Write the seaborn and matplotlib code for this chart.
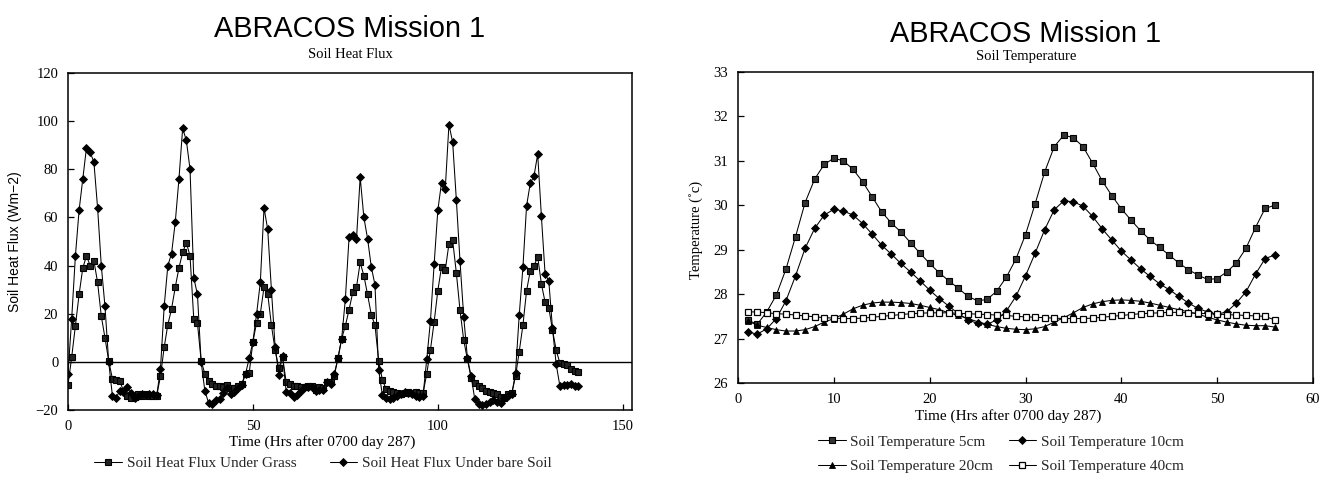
import matplotlib
matplotlib.use("Agg")
import matplotlib.pyplot as plt
import seaborn as sns
import pandas as pd

# ---------------- data: soil heat flux (left) ----------------
flux_hours = list(range(0, 139))
flux_grass = [
    -9.5, 2, 15, 28, 39, 44, 40, 42, 33, 19, 10, 0.5, -7,
    -7.5, -8, -12, -14, -15, -14.5, -13.5, -14, -13.5, -14, -14, -14,
    -6, 6, 15.5, 22, 31, 39, 45.5, 49.5, 44, 18, 16, 0.5, -5, -8,
    -9, -10, -10, -10.5, -9.5, -11, -11, -10, -9, -5,
    -4.6, 8.4, 16.3, 20, 31, 28.3, 15.2, 4.9, -2.6, 2.2,
    -8.5, -9.2, -9.9, -10.1, -10.5, -10.3, -9.9, -10.1, -11.6, -10.5, -11, -8.2, -8.5, -5.8,
    1.5, 9.7, 15, 21.7, 28.9, 31, 41.3, 35.8, 28, 19.6, 15.2, 0.5, -7.5, -11.2,
    -12, -12.5, -13, -13.5, -13, -12.5, -13, -12.5, -13, -13,
    -5, 5, 16.6, 29.6, 39.5, 38, 49, 50.6, 37, 21.4, 9, 1, -6.7, -8.8, -10.2,
    -11, -12, -12.5, -13, -13.5, -14.5, -15, -13.5, -13,
    -6, 4.2, 15.2, 29.6, 37.9, 39.9, 43.6, 32.4, 24.8, 22.5, 13.2, 4.9, -0.5, -1, -1.5, -3, -4, -4.3,
]
flux_bare = [
    -5, 18, 44, 63, 76, 89, 87, 83, 64, 40, 23, 0, -14,
    -15, -12, -12.5, -10.5, -13, -15, -14, -13.5, -13.7, -13.4, -13.5, -13.8,
    -3, 23, 40, 45, 58, 76, 97, 92, 80, 35, 28, 0, -12, -17,
    -17.5, -16, -15.5, -13, -11, -13.5, -12.5, -11, -9.5, -5,
    1.5, 8.4, 20, 33, 64, 55, 30, 6.3, -5.3, 2.5,
    -12.6, -12.9, -14.7, -13.7, -11.9, -10.5, -10.5, -10.5, -11.9, -11.5, -11.5, -8.5, -9, -5,
    1.5, 9.7, 26.2, 51.8, 52.7, 50.9, 76.7, 60, 51.2, 39.5, 32, -3.3, -13.8, -15,
    -15.5, -15, -14, -13.5, -12.5, -13, -13.5, -14, -14.5, -14,
    1, 17, 40.6, 63, 74.5, 71.7, 98.5, 91.4, 67.4, 41.7, 18.6, 1.5, -6, -15.6, -17.7,
    -17.8, -17.4, -16.5, -16, -16.5, -17, -15, -14, -13.5,
    -4.6, 19.3, 39.2, 64.9, 74.2, 77.2, 86.3, 60.5, 36.5, 33.7, 13.9, -1, -10, -9.5, -9.5, -9, -10, -10,
]
flux_xticks = [0, 50, 100, 150]
flux_yticks = [-20, 0, 20, 40, 60, 80, 100, 120]

# ---------------- data: soil temperature (right) ----------------
temp_hours = list(range(1, 57))
temp_5cm = [
    27.42, 27.32, 27.6, 27.98, 28.56, 29.29, 30.06, 30.59, 30.92, 31.06,
    31.0, 30.81, 30.53, 30.19, 29.85, 29.6, 29.4, 29.16, 28.92, 28.69,
    28.48, 28.3, 28.13, 27.95, 27.85, 27.88, 28.07, 28.38, 28.79, 29.34,
    30.03, 30.75, 31.32, 31.58, 31.52, 31.32, 30.95, 30.55, 30.22, 29.92,
    29.67, 29.43, 29.22, 29.05, 28.88, 28.7, 28.55, 28.43, 28.33, 28.35,
    28.5, 28.7, 29.03, 29.5, 29.93, 30.0,
]
temp_10cm = [
    27.15, 27.1, 27.22, 27.45, 27.85, 28.41, 29.03, 29.48, 29.78, 29.91,
    29.87, 29.78, 29.59, 29.35, 29.1, 28.9, 28.69, 28.5, 28.3, 28.09,
    27.9, 27.73, 27.56, 27.42, 27.34, 27.32, 27.42, 27.62, 27.95, 28.41,
    28.92, 29.45, 29.9, 30.1, 30.08, 29.98, 29.75, 29.47, 29.22, 28.97,
    28.77, 28.57, 28.4, 28.23, 28.1, 27.95, 27.8, 27.68, 27.6, 27.55,
    27.6, 27.8, 28.05, 28.45, 28.8, 28.88,
]
temp_20cm = [
    27.4, 27.3, 27.25, 27.2, 27.17, 27.17, 27.2, 27.27, 27.37, 27.45,
    27.55, 27.67, 27.75, 27.8, 27.82, 27.82, 27.81, 27.79, 27.75, 27.7,
    27.65, 27.58, 27.52, 27.45, 27.38, 27.32, 27.27, 27.23, 27.21, 27.2,
    27.22, 27.27, 27.37, 27.47, 27.58, 27.7, 27.78, 27.83, 27.86, 27.87,
    27.86, 27.84, 27.8, 27.75, 27.7, 27.65, 27.6, 27.55, 27.48, 27.42,
    27.37, 27.33, 27.3, 27.29, 27.29, 27.26,
]
temp_40cm = [
    27.6, 27.6, 27.58, 27.56, 27.55, 27.53, 27.51, 27.49, 27.47, 27.46,
    27.45, 27.45, 27.46, 27.48, 27.5, 27.52, 27.54, 27.56, 27.57, 27.58,
    27.58, 27.58, 27.57, 27.56, 27.55, 27.54, 27.53, 27.52, 27.5, 27.49,
    27.48, 27.47, 27.46, 27.45, 27.45, 27.45, 27.46, 27.48, 27.5, 27.52,
    27.54, 27.56, 27.57, 27.58, 27.59, 27.59, 27.58, 27.57, 27.56, 27.55,
    27.54, 27.53, 27.52, 27.51, 27.5, 27.42,
]
temp_xticks = [0, 10, 20, 30, 40, 50, 60]
temp_yticks = [26, 27, 28, 29, 30, 31, 32, 33]

# ---------------- style ----------------
sns.set_theme(style="white")
SERIF = ["Liberation Serif", "DejaVu Serif"]
SANS = ["Liberation Sans", "DejaVu Sans"]
plt.rcParams["font.family"] = SERIF
plt.rcParams["axes.edgecolor"] = "black"
plt.rcParams["axes.linewidth"] = 1.1

W, H = 1322, 482
fig = plt.figure(figsize=(W / 100, H / 100), dpi=100)
fig.patch.set_facecolor("white")


def frac_box(x0, y0, x1, y1):
    return [x0 / W, 1 - y1 / H, (x1 - x0) / W, (y1 - y0) / H]


ax1 = fig.add_axes(frac_box(68, 73, 632, 410))
ax2 = fig.add_axes(frac_box(738, 72, 1313, 383))

line_kw = dict(color="black", linewidth=0.75, errorbar=None, estimator=None, sort=False)

# left chart
df_flux = pd.DataFrame({"t": flux_hours, "grass": flux_grass, "bare": flux_bare})
sns.lineplot(data=df_flux, x="t", y="grass", ax=ax1, marker="s", markersize=3.8,
             markerfacecolor="#222222", markeredgecolor="black", markeredgewidth=0.8,
             label="Soil Heat Flux Under Grass", **line_kw)
sns.lineplot(data=df_flux, x="t", y="bare", ax=ax1, marker="D", markersize=3.6,
             markerfacecolor="black", markeredgecolor="black", markeredgewidth=0.6,
             label="Soil Heat Flux Under bare Soil", **line_kw)
ax1.axhline(0, color="black", linewidth=1.0, zorder=1)
ax1.set_xlim(0, 152.5)
ax1.set_ylim(-20, 120)
ax1.set_xticks(flux_xticks)
ax1.set_xticklabels([str(v) for v in flux_xticks])
ax1.set_yticks(flux_yticks)
ax1.set_yticklabels([str(v).replace("-", "\u2212") for v in flux_yticks])
ax1.set_xlabel("")
ax1.set_ylabel("")

# right chart
df_temp = pd.DataFrame({"t": temp_hours, "c5": temp_5cm, "c10": temp_10cm,
                        "c20": temp_20cm, "c40": temp_40cm})
sns.lineplot(data=df_temp, x="t", y="c5", ax=ax2, marker="s", markersize=4.2,
             markerfacecolor="#333333", markeredgecolor="black", markeredgewidth=0.8,
             label="Soil Temperature 5cm", **line_kw)
sns.lineplot(data=df_temp, x="t", y="c10", ax=ax2, marker="D", markersize=3.8,
             markerfacecolor="black", markeredgecolor="black", markeredgewidth=0.6,
             label="Soil Temperature 10cm", **line_kw)
sns.lineplot(data=df_temp, x="t", y="c20", ax=ax2, marker="^", markersize=4.6,
             markerfacecolor="black", markeredgecolor="black", markeredgewidth=0.6,
             label="Soil Temperature 20cm", **line_kw)
sns.lineplot(data=df_temp, x="t", y="c40", ax=ax2, marker="s", markersize=4.4,
             markerfacecolor="white", markeredgecolor="black", markeredgewidth=0.9,
             label="Soil Temperature 40cm", **line_kw)
ax2.set_xlim(0, 60)
ax2.set_ylim(26, 33)
ax2.set_xticks(temp_xticks)
ax2.set_xticklabels([str(v) for v in temp_xticks])
ax2.set_yticks(temp_yticks)
ax2.set_yticklabels([str(v) for v in temp_yticks])
ax2.set_xlabel("")
ax2.set_ylabel("")

for ax in (ax1, ax2):
    ax.set_facecolor("white")
    for s in ax.spines.values():
        s.set_visible(True)
        s.set_color("black")
        s.set_linewidth(1.1)
    ax.tick_params(axis="both", direction="in", length=4, width=0.9, colors="black",
                   labelsize=10.5, pad=7, bottom=True, left=True, top=False, right=False)
    for lab in ax.get_xticklabels() + ax.get_yticklabels():
        lab.set_family(SERIF)
    leg = ax.get_legend()
    if leg is not None:
        leg.remove()

# titles
fig.text(350 / W, 1 - 37 / H, "ABRACOS Mission 1", ha="center", va="baseline",
         family=SANS, fontsize=20.8, color="black")
fig.text(350 / W, 1 - 58 / H, "Soil Heat Flux", ha="center", va="baseline",
         family=SERIF, fontsize=10.5, color="black")
fig.text(1026 / W, 1 - 42 / H, "ABRACOS Mission 1", ha="center", va="baseline",
         family=SANS, fontsize=20.8, color="black")
fig.text(1026 / W, 1 - 60 / H, "Soil Temperature", ha="center", va="baseline",
         family=SERIF, fontsize=10.5, color="black")

# axis labels
fig.text(15 / W, 1 - 242 / H, "Soil Heat Flux (Wm\u22122)", rotation=90, ha="center",
         va="center", family=SANS, fontsize=10, color="black")
fig.text(322 / W, 1 - 442 / H, "Time (Hrs after 0700 day 287)", ha="center", va="center",
         family=SERIF, fontsize=11, color="black")
fig.text(696 / W, 1 - 230 / H, "Temperature (\u02DAc)", rotation=90, ha="center",
         va="center", family=SERIF, fontsize=10.5, color="black")
fig.text(1008 / W, 1 - 416 / H, "Time (Hrs after 0700 day 287)", ha="center", va="center",
         family=SERIF, fontsize=11, color="black")

# legends
h1, l1 = ax1.get_legend_handles_labels()
fig.legend(h1, l1, loc="center", bbox_to_anchor=(323 / W, 1 - 463 / H), ncol=2,
           frameon=False, prop={"family": SERIF, "size": 11}, handlelength=1.8,
           handletextpad=0.3, columnspacing=2.2, borderpad=0)
h2, l2 = ax2.get_legend_handles_labels()
order = [0, 2, 1, 3]  # row-wise: 5cm, 10cm / 20cm, 40cm
fig.legend([h2[i] for i in order], [l2[i] for i in order], loc="center",
           bbox_to_anchor=(1001 / W, 1 - 454 / H), ncol=2,
           frameon=False, prop={"family": SERIF, "size": 11}, handlelength=1.8,
           handletextpad=0.3, columnspacing=1.0, labelspacing=0.7, borderpad=0)

fig.savefig("out.png", dpi=100, facecolor="white")
